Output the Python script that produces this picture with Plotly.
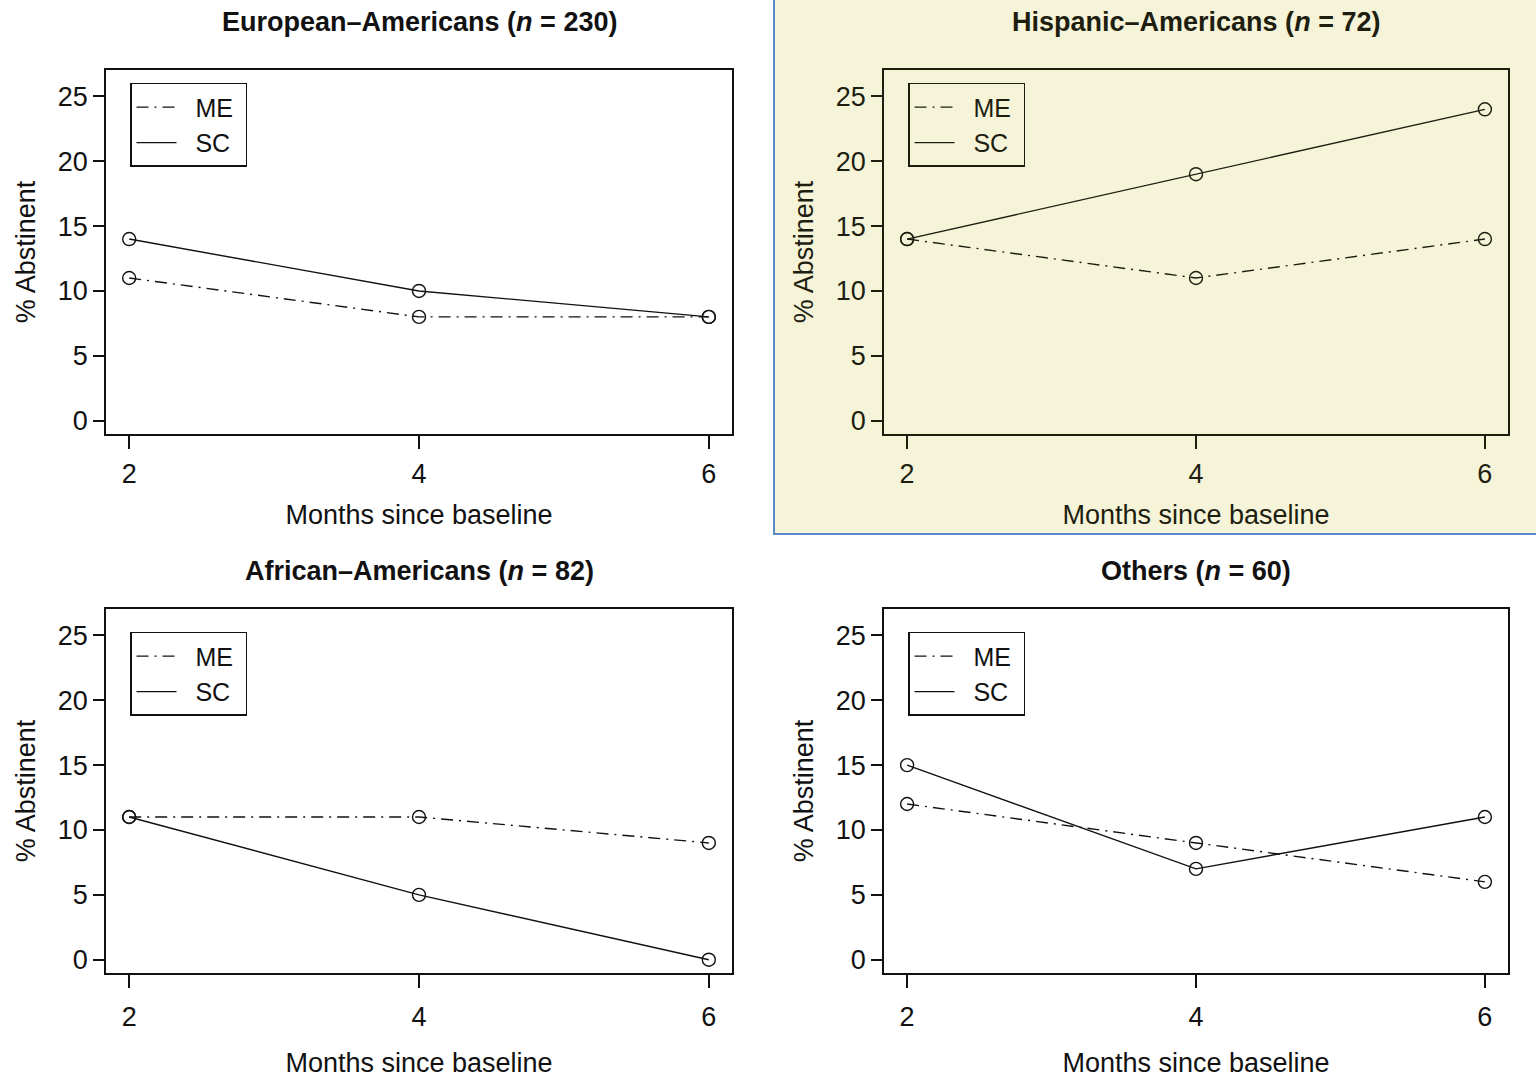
import plotly.graph_objects as go

months = [2, 4, 6]
titles = [
    "<b>European–Americans (<i>n</i> = 230)</b>",
    "<b>Hispanic–Americans (<i>n</i> = 72)</b>",
    "<b>African–Americans (<i>n</i> = 82)</b>",
    "<b>Others (<i>n</i> = 60)</b>",
]
me_euro = [11, 8, 8]
sc_euro = [14, 10, 8]
me_hisp = [14, 11, 14]
sc_hisp = [14, 19, 24]
me_afr = [11, 11, 9]
sc_afr = [11, 5, 0]
me_oth = [12, 9, 6]
sc_oth = [15, 7, 11]
me_series = [me_euro, me_hisp, me_afr, me_oth]
sc_series = [sc_euro, sc_hisp, sc_afr, sc_oth]
yticks = [0, 5, 10, 15, 20, 25]
series_names = ["ME", "SC"]

W, H = 1536, 1078
FONT = "Liberation Sans, Arial, sans-serif"
FS = 27
BLACK = "#111111"
OLIVE = "#1e1e10"
DASHDOT = "12px,6px,2px,6px"

# box pixel positions (left, right, top, bottom, title y, legend top, tick standoff, title standoff)
boxes = [
    (106, 732, 70, 435, 22, 83, 2, 17),
    (884, 1508, 70, 435, 22, 83, 2, 17),
    (106, 732, 610, 975, 572, 633, 6, 23),
    (884, 1508, 610, 975, 572, 633, 6, 23),
]

fig = go.Figure()
layout = dict(
    width=W, height=H, margin=dict(l=0, r=0, t=0, b=0),
    paper_bgcolor="white", plot_bgcolor="rgba(0,0,0,0)",
    font=dict(family=FONT, size=FS, color=BLACK),
    showlegend=True,
)
annotations = []
shapes = [
    dict(type="rect", xref="paper", yref="paper",
         x0=774 / W, x1=1.01, y0=1 - 535 / H, y1=1.01,
         fillcolor="#f6f4d8", line=dict(color="#5b8bc9", width=2), layer="below"),
]

for i in range(4):
    l, r, t, b, ty, lt, tks, tts = boxes[i]
    n = "" if i == 0 else str(i + 1)
    col = OLIVE if i == 1 else BLACK
    xa, ya = "x" + n, "y" + n
    leg = "legend" + n
    mk = dict(symbol="circle-open", size=13, color=col, line=dict(width=1.4))
    # data traces
    fig.add_trace(go.Scatter(
        x=months, y=me_series[i], name=series_names[0], mode="lines+markers",
        line=dict(color=col, width=1.4, dash=DASHDOT), marker=mk,
        xaxis=xa, yaxis=ya, showlegend=False))
    fig.add_trace(go.Scatter(
        x=months, y=sc_series[i], name=series_names[1], mode="lines+markers",
        line=dict(color=col, width=1.4, dash="solid"), marker=mk,
        xaxis=xa, yaxis=ya, showlegend=False))
    # legend keys (line only, as in the original)
    fig.add_trace(go.Scatter(
        x=[None], y=[None], name="\u00a0\u00a0" + series_names[0] + "\u00a0", mode="lines",
        line=dict(color=col, width=1.4, dash=DASHDOT),
        xaxis=xa, yaxis=ya, legend=leg, hoverinfo="skip"))
    fig.add_trace(go.Scatter(
        x=[None], y=[None], name="\u00a0\u00a0" + series_names[1] + "\u00a0", mode="lines",
        line=dict(color=col, width=1.4, dash="solid"),
        xaxis=xa, yaxis=ya, legend=leg, hoverinfo="skip"))
    xkey = "xaxis" + n
    ykey = "yaxis" + n
    layout[xkey] = dict(
        domain=[l / W, r / W], anchor=ya, range=[1.84, 6.16],
        tickvals=months, ticks="outside", ticklen=13, tickwidth=1.5, tickcolor=col,
        showline=True, linewidth=1.5, linecolor=col, mirror=True,
        showgrid=False, zeroline=False, fixedrange=True,
        tickfont=dict(size=FS, color=col), ticklabelstandoff=tks,
        title=dict(text="Months since baseline", font=dict(size=FS, color=col), standoff=tts),
    )
    layout[ykey] = dict(
        domain=[1 - b / H, 1 - t / H], anchor=xa, range=[-1.04, 27.04],
        tickvals=yticks, ticks="outside", ticklen=11, tickwidth=1.5, tickcolor=col,
        showline=True, linewidth=1.5, linecolor=col, mirror=True,
        showgrid=False, zeroline=False, fixedrange=True,
        tickfont=dict(size=FS, color=col), ticklabelstandoff=0,
        title=dict(text="% Abstinent", font=dict(size=FS, color=col), standoff=14),
    )
    layout[leg] = dict(
        x=(l + 24) / W, y=1 - lt / H, xanchor="left", yanchor="top",
        bgcolor="rgba(0,0,0,0)", bordercolor=col, borderwidth=1.5,
        font=dict(size=25, color=col), tracegroupgap=0, itemwidth=40,
    )
    annotations.append(dict(
        text=titles[i], xref="paper", yref="paper",
        x=(l + r) / 2 / W, y=1 - ty / H, xanchor="center", yanchor="middle",
        showarrow=False, font=dict(size=FS, color=col, family=FONT)))

layout["annotations"] = annotations
layout["shapes"] = shapes
fig.update_layout(**layout)
fig.write_html("out.html", post_script="document.body.style.margin='0';",
               config={"displayModeBar": False})
